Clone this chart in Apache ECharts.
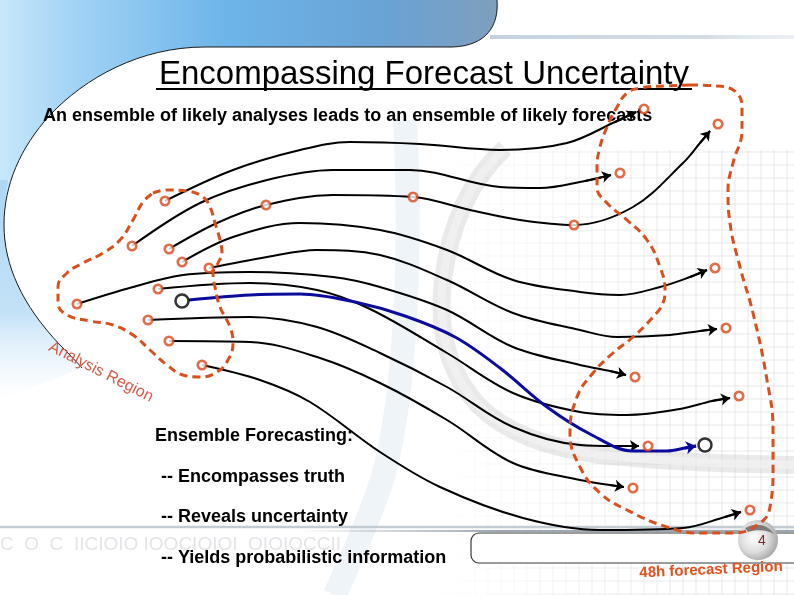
<!DOCTYPE html>
<html>
<head>
<meta charset="utf-8">
<script src="https://cdn.jsdelivr.net/npm/echarts@6/dist/echarts.min.js"></script>
<style>html,body{margin:0;padding:0;background:#fff}#c{width:794px;height:595px}</style>
</head>
<body>
<div id="c"></div>
<script>
// ---------- DATA (in slide units) ----------
const titleText = 'Encompassing Forecast Uncertainty';
const subtitleText = 'An ensemble of likely analyses leads to an ensemble of likely forecasts';
const bulletTexts = ['Ensemble Forecasting:', '-- Encompasses truth', '-- Reveals uncertainty', '-- Yields probabilistic information'];
const analysisLabel = 'Analysis Region';
const forecastLabel = '48h forecast Region';
const pageNumber = '4';

const analysisPts = [[165,201],[132,246],[169,249],[182,262],[209,268],[77,304],[158,289],[148,320],[169,341],[202,365]];
const midPts = [[266,205],[413,197],[574,225]];
const forecastPts = [[644,109],[620,173],[718,124],[715,268],[726,328],[635,377],[739,396],[648,446],[633,488],[750,510]];
const truthPts = [[182,301],[705,445]];

const member1 = [[165,201],[233,170],[300,150],[350,142],[420,144],[500,150],[567,143],[615,122],[636,112]];
const member2 = [[132,246],[200,203],[267,180],[333,170],[410,170],[500,187],[540,188],[585,181],[611,175]];
const member3 = [[169,249],[217,223],[266,205],[333,195],[413,197],[470,210],[520,220],[574,225],[633,207],[683,163],[700,143],[710,131]];
const member4 = [[182,262],[233,237],[300,223],[380,230],[447,250],[513,280],[580,292],[620,295],[660,287],[690,277],[707,270]];
const member5 = [[209,268],[267,257],[317,250],[380,255],[447,280],[513,313],[580,330],[617,337],[670,335],[700,331],[717,329]];
const member6 = [[77,304],[133,287],[183,275],[250,272],[333,277],[380,287],[447,310],[513,347],[580,365],[610,371],[626,375]];
const member7 = [[158,289],[250,283],[317,290],[370,309],[447,353],[513,393],[580,412],[627,415],[680,409],[712,401],[730,398]];
const member8 = [[148,320],[250,317],[317,327],[380,353],[447,387],[513,427],[580,445],[615,446],[639,446]];
const member9 = [[169,341],[250,342],[320,358],[380,383],[447,420],[513,463],[580,480],[610,485],[624,487]];
const member10 = [[202,365],[260,380],[310,402],[380,452],[440,487],[523,518],[600,530],[683,528],[725,517],[741,512]];
const truthPath = [[189,300],[250,295],[300,294],[355,302],[405,316],[455,337],[500,368],[547,407],[590,434],[633,451],[667,451],[685,448],[696,446]];

const analysisRegion = [[153,193],[167,190],[187,191],[203,197],[210,207],[215,223],[220,240],[222,253],[218,263],[213,273],[215,287],[220,307],[230,327],[233,343],[228,360],[217,372],[200,377],[183,375],[167,365],[150,350],[133,335],[113,325],[90,321],[67,315],[58,303],[58,287],[67,273],[83,263],[103,253],[120,240],[133,220],[143,202],[153,193]];
const forecastRegion = [[690,85],[665,86],[640,88],[627,93],[617,107],[607,127],[600,147],[597,167],[597,187],[607,203],[627,220],[647,240],[660,267],[665,290],[663,303],[653,317],[633,337],[613,353],[593,373],[577,397],[570,433],[580,467],[600,493],[627,510],[667,527],[700,533],[733,533],[760,523],[770,507],[773,467],[773,430],[767,380],[753,313],[740,267],[730,223],[728,190],[733,163],[742,130],[742,110],[737,93],[717,86],[690,85]];

const members = [member1, member2, member3, member4, member5, member6, member7, member8, member9, member10];

// ---------- STYLES ----------
const FONT = "'Liberation Sans', Arial, sans-serif";
const RED = '#d9501f';

// decorative background outlines (slide template)
const shapePaths = {
  tabFill: 'M0 0 L497 0 C499 25 487 46 452 47 L205 47 C140 47 85 78 50 115 C20 148 4 185 4 225 L0 225 Z',
  stripFill: 'M0 180 L8 180 C5 195 4 210 4 225 C4 265 22 305 60 345 C68 353 75 360 82 368 L0 400 Z',
  tabEdge: 'M497 0 C499 25 487 46 452 47 L205 47 C140 47 85 78 50 115 C20 148 4 185 4 225 C4 265 22 305 60 345 C68 353 75 360 82 368',
  swoosh: 'M405 120 C412 260 405 400 382 480 C362 540 345 570 335 595',
  crescent: 'M505 148 C470 180 450 225 443 280 C437 330 448 372 478 405 C505 432 545 447 600 455 C680 463 740 464 794 465',
  ballMark: 'M745 528 C755 522 768 524 774 534 C768 530 757 529 748 532 Z'
};
Object.keys(shapePaths).forEach(k => {
  echarts.graphic.registerShape('deco_' + k, echarts.graphic.extendPath(shapePaths[k], {}));
});

const chart = echarts.init(document.getElementById('c'), null, {renderer: 'canvas'});

const bg = [];
bg.push({type:'rect', z:0, shape:{x:0,y:0,width:794,height:595}, style:{fill:'#ffffff'}});
for (let x = 436; x <= 794; x += 13) {
  const a = Math.min(1, (x - 430) / 250) * 0.45;
  bg.push({type:'line', z:0, shape:{x1:x,y1:150,x2:x,y2:595}, style:{stroke:'rgba(200,204,212,' + a.toFixed(2) + ')', lineWidth:1}});
}
for (let y = 152; y <= 595; y += 13) {
  bg.push({type:'line', z:0, shape:{x1:430,y1:y,x2:794,y2:y}, style:{lineWidth:1, stroke:{type:'linear',x:0,y:0,x2:1,y2:0,colorStops:[{offset:0,color:'rgba(200,204,212,0)'},{offset:0.6,color:'rgba(200,204,212,0.4)'},{offset:1,color:'rgba(200,204,212,0.45)'}]}}});
}
bg.push({type:'deco_swoosh', z:0, style:{fill:'none', stroke:'rgba(190,212,232,0.25)', lineWidth:24}});
bg.push({type:'deco_crescent', z:0, style:{fill:'none', stroke:'rgba(190,190,190,0.33)', lineWidth:18}});
bg.push({type:'deco_crescent', z:0, style:{fill:'none', stroke:'rgba(242,242,242,0.75)', lineWidth:8}});
bg.push({type:'deco_tabFill', z:0,
  style:{fill:{type:'linear',x:0,y:0,x2:1,y2:0,colorStops:[{offset:0,color:'#c8e7fa'},{offset:0.15,color:'#a2d3f5'},{offset:0.45,color:'#6db5ea'},{offset:0.78,color:'#6aa2d4'},{offset:1,color:'#7f9fbd'}]}}});
bg.push({type:'deco_stripFill', z:0,
  style:{fill:{type:'linear',x:0,y:0,x2:0,y2:1,colorStops:[{offset:0,color:'#aed7f4'},{offset:0.6,color:'rgba(180,218,245,0.8)'},{offset:1,color:'rgba(225,240,252,0)'}]}}});
bg.push({type:'deco_tabEdge', z:0, style:{fill:'none', stroke:'#1a1a1a', lineWidth:1}});
bg.push({type:'line', z:0, shape:{x1:490,y1:37,x2:794,y2:37}, style:{lineWidth:4, stroke:{type:'linear',x:0,y:0,x2:1,y2:0,colorStops:[{offset:0,color:'rgba(190,205,218,0.9)'},{offset:0.7,color:'rgba(200,212,224,0.8)'},{offset:1,color:'rgba(220,228,236,0.5)'}]}}});
bg.push({type:'line', z:0, shape:{x1:0,y1:527,x2:794,y2:527}, style:{stroke:'#c3cbd3', lineWidth:2.5}});
bg.push({type:'line', z:0, shape:{x1:300,y1:531,x2:794,y2:531}, style:{lineWidth:1.5, stroke:{type:'linear',x:0,y:0,x2:1,y2:0,colorStops:[{offset:0,color:'rgba(110,125,140,0)'},{offset:0.4,color:'rgba(110,125,140,0.9)'},{offset:1,color:'rgba(110,125,140,0.9)'}]}}});
bg.push({type:'text', z:0, style:{text:'C  O  C  IICIOIO IOOCIOIOI  OIOIOCCII', x:0, y:545, textVerticalAlign:'middle', font:'19px ' + FONT, fill:'#e2e4e7'}});
bg.push({type:'rect', z:0, shape:{x:471,y:533,width:340,height:30,r:8}, style:{fill:'#ffffff', stroke:'#3a3a3a', lineWidth:1.2}});
bg.push({type:'circle', z:0, shape:{cx:758,cy:540,r:20}, style:{fill:{type:'radial',x:0.4,y:0.45,r:0.6,colorStops:[{offset:0,color:'#ffffff'},{offset:0.6,color:'#dcdcdc'},{offset:1,color:'#a9a9a9'}]}}});
bg.push({type:'deco_ballMark', z:0, style:{fill:'#7b7b7b'}});

const texts = [];
texts.push({type:'text', z:1, style:{text:titleText, x:424, y:75, textAlign:'center', textVerticalAlign:'middle', font:'33px ' + FONT, fill:'#000'}});
texts.push({type:'line', z:1, shape:{x1:156,y1:89,x2:692,y2:89}, style:{stroke:'#000', lineWidth:2}});
texts.push({type:'text', z:1, style:{text:subtitleText, x:43, y:116, textAlign:'left', textVerticalAlign:'middle', font:'bold 18px ' + FONT, fill:'#000'}});
const bulletX = [155, 161, 161, 161];
const bulletY = [436, 477, 517, 558];
bulletTexts.forEach((t, i) => texts.push({type:'text', z:1, style:{text:t, x:bulletX[i], y:bulletY[i], textAlign:'left', textVerticalAlign:'middle', font:'bold 18px ' + FONT, fill:'#000'}}));
texts.push({type:'text', z:1, x:101, y:372, rotation:-0.47, style:{text:analysisLabel, x:0, y:0, textAlign:'center', textVerticalAlign:'middle', font:'16px ' + FONT, fill:'#d45a48'}});
texts.push({type:'text', z:1, x:711, y:570, rotation:0.045, style:{text:forecastLabel, x:0, y:0, textAlign:'center', textVerticalAlign:'middle', font:'bold 15px ' + FONT, fill:'#e0531f'}});
texts.push({type:'text', z:1, style:{text:pageNumber, x:762, y:541, textAlign:'center', textVerticalAlign:'middle', font:'14px ' + FONT, fill:'#7a2a2a'}});

const series = [];
members.forEach((m, i) => series.push({type:'line', name:'member' + (i+1), data:m, smooth:0.35, symbol:'none', z:3, silent:true,
  lineStyle:{color:'#000', width:2}}));
series.push({type:'line', name:'truth', data:truthPath, smooth:0.35, symbol:'none', z:4, silent:true, lineStyle:{color:'#0b0b9e', width:3}});
series.push({type:'lines', coordinateSystem:'cartesian2d', z:4, silent:true, symbol:['none','arrow'], symbolSize:9,
  lineStyle:{color:'#000', width:2, opacity:1},
  data: members.map(m => ({coords:[m[m.length-2], m[m.length-1]]}))});
series.push({type:'lines', coordinateSystem:'cartesian2d', z:4, silent:true, symbol:['none','arrow'], symbolSize:10,
  lineStyle:{color:'#0b0b9e', width:3, opacity:1},
  data: [{coords:[truthPath[truthPath.length-2], truthPath[truthPath.length-1]]}]});
[analysisRegion, forecastRegion].forEach(r => series.push({type:'line', data:r, smooth:0.45, symbol:'none', z:5, silent:true,
  lineStyle:{color:RED, width:3, type:[8,5]}}));
series.push({type:'scatter', data:analysisPts.concat(midPts, forecastPts), symbol:'circle', symbolSize:8.5, z:6, silent:true,
  itemStyle:{color:'#fff', borderColor:'#d9481d', borderWidth:2.6}});
series.push({type:'scatter', data:truthPts, symbol:'circle', symbolSize:13, z:6, silent:true,
  itemStyle:{color:'#fff', borderColor:'#000', borderWidth:2.5}});

chart.setOption({
  animation:false,
  backgroundColor:'#ffffff',
  grid:{left:0,right:0,top:0,bottom:0},
  xAxis:{type:'value', min:0, max:794, show:false},
  yAxis:{type:'value', min:0, max:595, inverse:true, show:false},
  graphic:{elements: bg.concat(texts)},
  series:series
});
</script>
</body>
</html>
